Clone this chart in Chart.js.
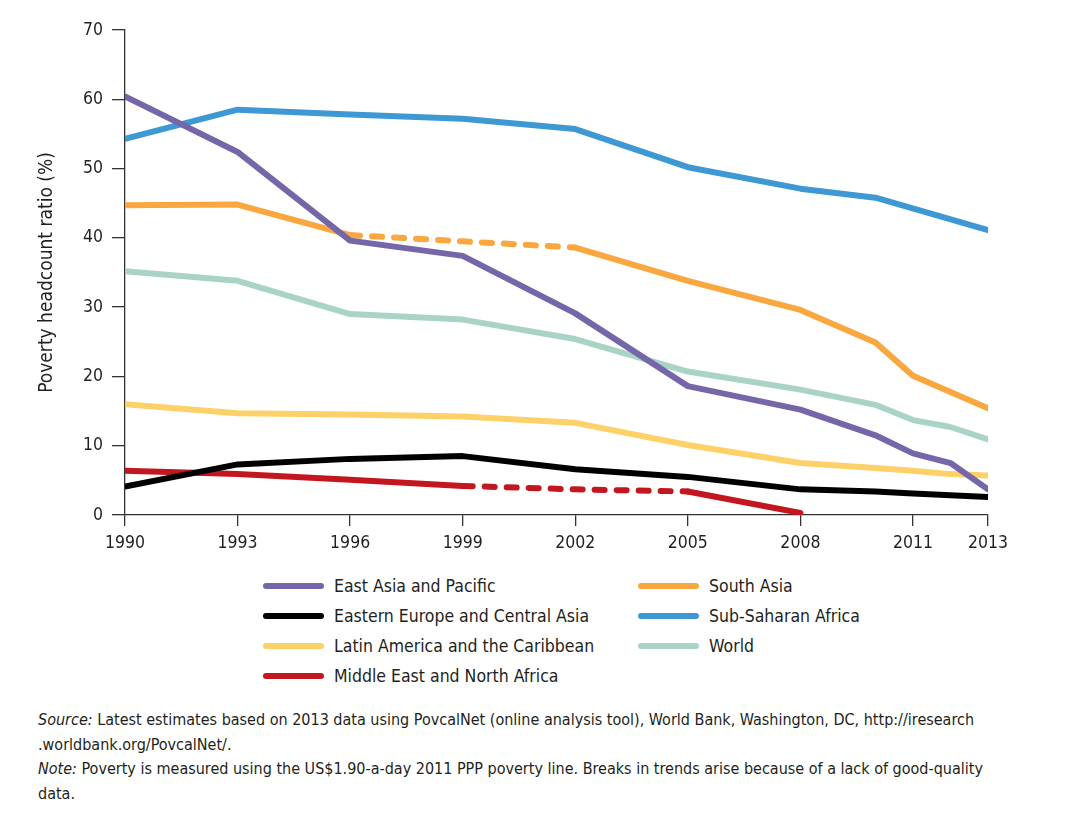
<!DOCTYPE html>
<html>
<head>
<meta charset="utf-8">
<script src="https://cdn.jsdelivr.net/npm/chart.js@4/dist/chart.umd.min.js"></script>
<style>
  body { margin: 0; background: #fff; font-family: "Liberation Sans Narrow", "DejaVu Sans Condensed", sans-serif; color: #231f20; }
  #wrap { position: absolute; left: 0; top: 0; width: 1074px; height: 560px; }
  #legend { position: absolute; left: 0; top: 0; }
  .item { position: absolute; height: 30px; display: flex; align-items: center; font-size: 17.5px; white-space: nowrap; }
  .swatch { width: 61px; height: 6px; border-radius: 3px; margin-right: 10px; }
  #notes { position: absolute; left: 38px; top: 708px; font-size: 16px; line-height: 24.7px; white-space: nowrap; }
</style>
</head>
<body>
<div id="wrap"><canvas id="chart" width="1074" height="560"></canvas></div>
<div id="legend"></div>
<div id="notes">
  <i>Source:</i> Latest estimates based on 2013 data using PovcalNet (online analysis tool), World Bank, Washington, DC, http://iresearch<br>
  .worldbank.org/PovcalNet/.<br>
  <i>Note:</i> Poverty is measured using the US$1.90-a-day 2011 PPP poverty line. Breaks in trends arise because of a lack of good-quality<br>
  data.
</div>
<script>
// survey years
const years = [1990, 1993, 1996, 1999, 2002, 2005, 2008, 2010, 2011, 2012, 2013];
const xTicks = [1990, 1993, 1996, 1999, 2002, 2005, 2008, 2011, 2013];

// poverty headcount ratio (%), null = no estimate
const eastAsia      = [60.4, 52.4, 39.6, 37.4, 29.1, 18.6, 15.2, 11.5, 8.9, 7.5, 3.7];
const easternEurope = [4.1, 7.3, 8.1, 8.5, 6.6, 5.5, 3.7, 3.4, 3.1, null, 2.6];
const latinAmerica  = [16.0, 14.7, 14.5, 14.2, 13.3, 10.1, 7.5, 6.8, 6.4, 5.9, 5.7];
const mena          = [6.4, 5.9, 5.1, 4.2, 3.7, 3.4, 0.3, null, null, null, null];
const southAsia     = [44.7, 44.8, 40.4, 39.5, 38.6, 33.8, 29.6, 24.9, 20.1, null, 15.4];
const subSaharan    = [54.3, 58.5, 57.8, 57.2, 55.7, 50.2, 47.1, 45.8, null, null, 41.1];
const world         = [35.2, 33.8, 29.0, 28.2, 25.4, 20.7, 18.1, 15.9, 13.7, 12.7, 10.9];

// stretches with no good-quality data (drawn dashed)
const southAsiaBreak = [1996, 2002];
const menaBreak = [1999, 2005];

const series = [
  { name: "East Asia and Pacific", values: eastAsia, color: "#7566a9" },
  { name: "Eastern Europe and Central Asia", values: easternEurope, color: "#000000" },
  { name: "Latin America and the Caribbean", values: latinAmerica, color: "#fdd068" },
  { name: "Middle East and North Africa", values: mena, color: "#c3161f", gap: menaBreak },
  { name: "South Asia", values: southAsia, color: "#f9a73e", gap: southAsiaBreak },
  { name: "Sub-Saharan Africa", values: subSaharan, color: "#3d98d4" },
  { name: "World", values: world, color: "#a9d4c3" }
];

const fontFamily = '"Liberation Sans Narrow", "DejaVu Sans Condensed", sans-serif';
const textColor = "#231f20";
const axisColor = "#333333";

new Chart(document.getElementById("chart"), {
  type: "line",
  data: {
    datasets: series.map(s => ({
      label: s.name,
      data: years.map((y, i) => ({ x: y, y: s.values[i] })).filter(p => p.y !== null),
      borderColor: s.color,
      backgroundColor: s.color,
      borderWidth: 6,
      borderCapStyle: "round",
      borderJoinStyle: "round",
      pointRadius: 0,
      tension: 0,
      fill: false,
      segment: {
        borderDash: ctx => (s.gap && ctx.p0.parsed.x >= s.gap[0] && ctx.p1.parsed.x <= s.gap[1]) ? [10, 12] : undefined
      }
    }))
  },
  options: {
    responsive: false,
    animation: false,
    devicePixelRatio: 1,
    layout: { padding: { left: 0, top: 30, right: 86, bottom: 0 } },
    plugins: { legend: { display: false }, tooltip: { enabled: false } },
    scales: {
      x: {
        type: "linear",
        min: 1990,
        max: 2013,
        afterBuildTicks: scale => { scale.ticks = xTicks.map(v => ({ value: v })); },
        afterFit: scale => { scale.height = 45; },
        grid: { drawOnChartArea: false, drawTicks: true, tickLength: 11, color: axisColor, lineWidth: 1.3 },
        border: { display: true, color: axisColor, width: 1.3 },
        ticks: {
          autoSkip: false, maxRotation: 0, padding: 7, color: textColor,
          font: { family: fontFamily, size: 17.5 },
          callback: v => String(v)
        }
      },
      y: {
        min: 0,
        max: 70,
        afterFit: scale => { scale.width = 125; },
        grid: { drawOnChartArea: false, drawTicks: true, tickLength: 13, color: axisColor, lineWidth: 1.3 },
        border: { display: true, color: axisColor, width: 1.3 },
        ticks: { stepSize: 10, padding: 9, color: textColor, font: { family: fontFamily, size: 17.5 } },
        title: {
          display: true,
          text: "Poverty headcount ratio (%)",
          color: textColor,
          font: { family: fontFamily, size: 19 },
          padding: { top: 36, bottom: 0 }
        }
      }
    }
  }
});

// two-column legend, filled column by column
const legend = document.getElementById("legend");
series.forEach((s, i) => {
  const col = i < 4 ? 0 : 1;
  const row = i < 4 ? i : i - 4;
  const item = document.createElement("div");
  item.className = "item";
  item.style.left = (col === 0 ? 263 : 638) + "px";
  item.style.top = (571 + row * 30) + "px";
  const sw = document.createElement("div");
  sw.className = "swatch";
  sw.style.background = s.color;
  item.appendChild(sw);
  item.appendChild(document.createTextNode(s.name));
  legend.appendChild(item);
});
</script>
</body>
</html>
